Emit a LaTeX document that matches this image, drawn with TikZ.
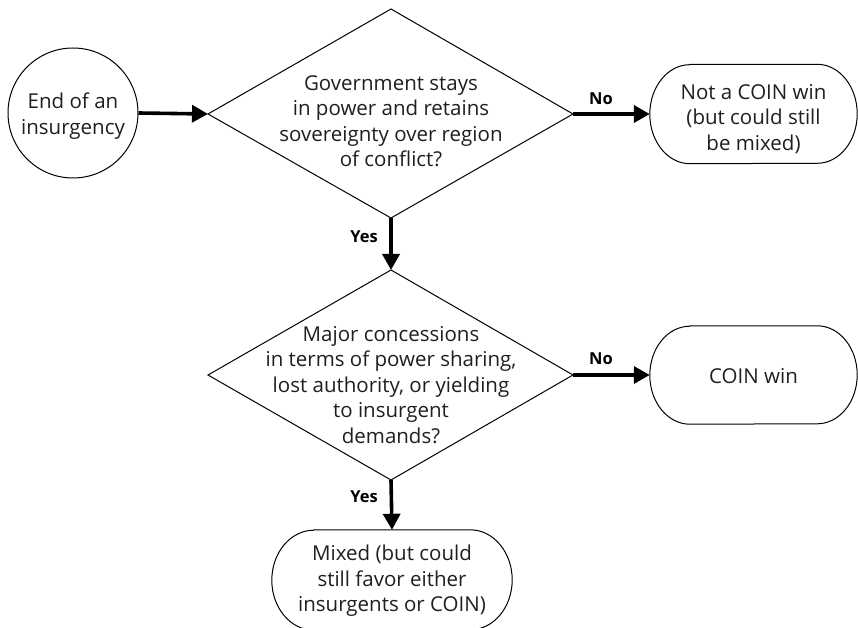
\documentclass[tikz,border=0pt]{standalone}
\usepackage{fontspec}
\setmainfont{Open Sans}
\usetikzlibrary{arrows.meta,calc}
\tikzset{
  txt/.style={align=center, font=\fontsize{20.5}{25.5}\selectfont, text=black!88, inner sep=0pt},
  lbl/.style={font=\fontsize{16.5}{18}\selectfont\bfseries, inner sep=0pt},
  outline/.style={draw=black, line width=1pt},
  flow/.style={draw=black, line width=3.6pt, -{Triangle[length=16pt,width=17pt]}},
}
% pill outline: #1 node name, #2 height, #3 horizontal radius of the rounded ends
\newcommand{\pillpath}[3]{%
  \pgfmathsetmacro{\pillhh}{#2/2}%
  \draw[outline] ($(#1.north west)+(#3pt,0)$) -- ($(#1.north east)+(-#3pt,0)$)
     arc[start angle=90, end angle=-90, x radius=#3pt, y radius=\pillhh pt]
     -- ($(#1.south west)+(#3pt,0)$)
     arc[start angle=270, end angle=90, x radius=#3pt, y radius=\pillhh pt] -- cycle;}
\begin{document}
\begin{tikzpicture}[x=1pt,y=1pt]
\useasboundingbox (0,0) rectangle (858,627);
\clip (0,0) rectangle (858,627);
% start circle
\node[txt, circle, outline, minimum size=130pt] (start) at (73,514) {};
\node[txt] (starttxt) at (73,511) {End of an\\insurgency};
% diamond 1
\node[txt] (d1) at (391,506) {Government stays\\in power and retains\\sovereignty over region\\of conflict?};
\coordinate (d1n) at (391,618);
\coordinate (d1s) at (391,409);
\coordinate (d1w) at (208,513);
\coordinate (d1e) at (573,513);
\draw[outline] (d1n) -- (d1e) -- (d1s) -- (d1w) -- cycle;
% outcome 1
\node[txt, minimum width=207pt, minimum height=99pt] (o1) at (753.5,513) {};
\node[txt] (o1txt) at (753.5,508) {Not a COIN win\\(but could still\\be mixed)};
\pillpath{o1}{99}{40}
% diamond 2
\coordinate (d2n) at (391,357);
\coordinate (d2s) at (391,147);
\coordinate (d2w) at (208,252);
\coordinate (d2e) at (573,252);
\node[txt] (d2) at (391,242) {Major concessions\\in terms of power sharing,\\lost authority, or yielding\\to insurgent\\demands?};
\draw[outline] (d2n) -- (d2e) -- (d2s) -- (d2w) -- cycle;
% outcome 2
\node[txt, minimum width=207pt, minimum height=98pt] (o2) at (753.5,252) {};
\node[txt] (o2txt) at (753.5,251) {COIN win};
\pillpath{o2}{98}{40}
% outcome 3
\node[txt, minimum width=240pt, minimum height=100pt] (o3) at (392,47) {};
\node[txt] (o3txt) at (392,46) {Mixed (but could\\still favor either\\insurgents or COIN)};
\pillpath{o3}{100}{42}
% connectors
\draw[flow] (start.east) -- (d1w);
\draw[flow] (d1e) -- (o1.west);
\draw[flow] (d1s) -- (d2n);
\draw[flow] (d2e) -- (o2.west);
\draw[flow] (d2s) -- (o3.north);
% labels
\node[lbl] (no1) at (601,528) {No};
\node[lbl] (no2) at (601,268) {No};
\node[lbl] (yes1) at (364,390) {Yes};
\node[lbl] (yes2) at (364,130) {Yes};
\end{tikzpicture}
\end{document}
